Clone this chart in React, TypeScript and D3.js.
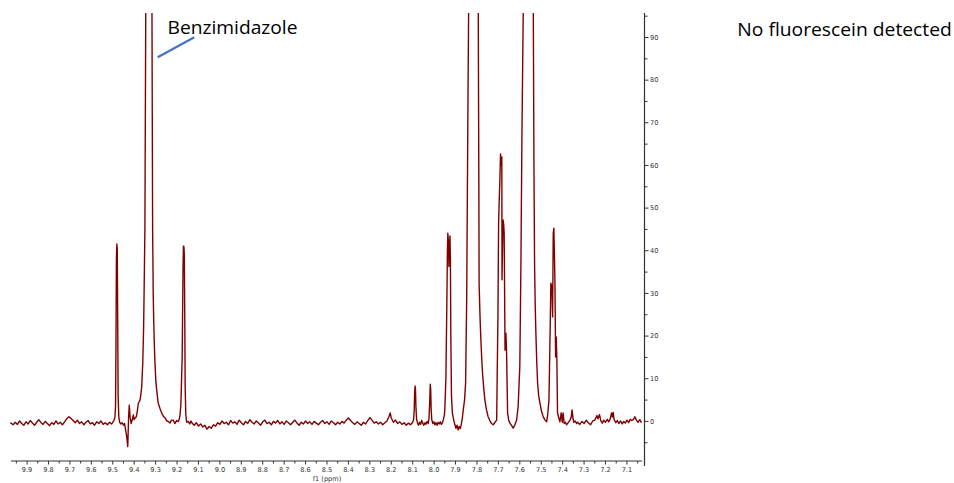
import React from "react";
import * as d3 from "d3";

// 1H NMR trace, f1 chemical shift (ppm) paired with intensity, from the downfield edge upfield

// baseline before the first signal
const baselineDownfield: [number, number][] = [
  [9.978, -0.3], [9.965, -0.8], [9.955, -0.2], [9.945, -0.7], [9.935, 0.1], [9.925, -0.5],
  [9.915, -0.9], [9.905, -0.1], [9.895, -0.6], [9.885, 0.2], [9.875, -0.4], [9.865, -0.9],
  [9.855, -0.2], [9.845, 0.4], [9.835, -0.3], [9.825, -0.7], [9.815, 0.0], [9.805, -0.5],
  [9.795, -1.0], [9.785, -0.3], [9.775, -0.7], [9.765, 0.1], [9.755, -0.6], [9.745, -0.2],
  [9.735, -0.8], [9.725, -0.1], [9.715, 0.6], [9.705, 1.1], [9.695, 0.7], [9.685, 0.2],
  [9.675, -0.3], [9.665, 0.3], [9.655, -0.5], [9.645, -0.1], [9.635, -0.8], [9.625, -0.2],
  [9.615, 0.2], [9.605, -0.6], [9.595, -0.3], [9.585, -0.9], [9.575, -0.1], [9.565, -0.5],
  [9.555, 0.1], [9.545, -0.7], [9.535, -0.3], [9.525, -0.8], [9.515, -0.2], [9.505, -0.6],
  [9.495, 0.2],
];

// benzimidazole signals: 9.48, 9.33 (off scale) and 9.17 ppm
const benzimidazoleSignals: [number, number][] = [
  [9.490, 0.9], [9.487, 3.5], [9.485, 18], [9.483, 38], [9.481, 41.6], [9.479, 40.5],
  [9.477, 24], [9.475, 6], [9.472, 1.2], [9.468, -0.2], [9.462, -0.6], [9.456, -0.3],
  [9.450, -0.9], [9.445, -0.5], [9.440, -2.0], [9.435, -3.5], [9.430, -5.9], [9.426, 1.1],
  [9.423, 3.8], [9.419, 1.0], [9.414, -0.5], [9.408, 0.6], [9.404, 1.5], [9.400, 0.4],
  [9.396, 0.8], [9.390, 1.1], [9.385, 2.5], [9.381, 4.2], [9.377, 4.6], [9.373, 5.0],
  [9.369, 6.2], [9.365, 8.1], [9.360, 13.7], [9.356, 22], [9.354, 29.2], [9.350, 44.9],
  [9.346, 96], [9.338, 200], [9.331, 260], [9.324, 200], [9.317, 96], [9.314, 45],
  [9.312, 35], [9.3115, 31], [9.309, 24], [9.306, 18], [9.303, 13.7], [9.299, 9.5],
  [9.295, 7.4], [9.288, 4.3], [9.280, 3.1], [9.272, 2.0], [9.264, 1.2], [9.256, 0.8],
  [9.248, 0.1], [9.241, 0.0], [9.233, -0.4], [9.226, 0.3], [9.218, 0.3], [9.210, -0.5],
  [9.202, 0.2], [9.194, 0.0], [9.189, 0.6], [9.186, 1.5], [9.182, 4], [9.176, 15],
  [9.172, 36], [9.170, 41.1], [9.168, 41], [9.166, 39], [9.164, 25], [9.162, 8],
  [9.159, 1.5], [9.155, -0.2], [9.148, 0.0], [9.141, -0.6], [9.135, 0.1],
];

// empty stretch between 9.13 and 8.10 ppm
const baselineMiddle: [number, number][] = [
  [9.13, -0.4], [9.12, -0.9], [9.11, -0.3], [9.10, -1.1], [9.09, -0.6], [9.08, -1.3],
  [9.07, -0.9], [9.06, -1.8], [9.05, -1.2], [9.04, -1.6], [9.03, -0.8], [9.02, -1.1],
  [9.01, -0.3], [9.00, -0.7], [8.99, 0.1], [8.98, -0.5], [8.97, -0.2], [8.96, -0.8],
  [8.95, 0.2], [8.94, -0.4], [8.93, -0.1], [8.92, -0.7], [8.91, 0.3], [8.90, -0.3],
  [8.89, -0.8], [8.88, 0.0], [8.87, -0.5], [8.86, 0.4], [8.85, -0.2], [8.84, -0.6],
  [8.83, 0.1], [8.82, -0.4], [8.81, -0.9], [8.80, -0.1], [8.79, 0.3], [8.78, -0.5],
  [8.77, -0.2], [8.76, -0.8], [8.75, 0.0], [8.74, -0.4], [8.73, 0.2], [8.72, -0.6],
  [8.71, -0.1], [8.70, -0.7], [8.69, 0.1], [8.68, -0.3], [8.67, -0.8], [8.66, -0.2],
  [8.65, 0.3], [8.64, -0.4], [8.63, -0.9], [8.62, -0.2], [8.61, -0.6], [8.60, 0.1],
  [8.59, -0.5], [8.58, -0.1], [8.57, -0.7], [8.56, 0.0], [8.55, -0.4], [8.54, -0.8],
  [8.53, -0.2], [8.52, 0.2], [8.51, -0.5], [8.50, -0.1], [8.49, -0.7], [8.48, 0.1],
  [8.47, -0.3], [8.46, -0.8], [8.45, -0.2], [8.44, -0.6], [8.43, 0.0], [8.42, -0.4],
  [8.41, 0.3], [8.40, 0.8], [8.39, 0.2], [8.38, -0.3], [8.37, -0.7], [8.36, -0.1],
  [8.35, -0.5], [8.34, -0.9], [8.33, -0.2], [8.32, -0.6], [8.31, 0.2], [8.30, 0.9],
  [8.29, 0.3], [8.28, -0.4], [8.27, -0.1], [8.26, -0.6], [8.25, -0.2], [8.24, -0.8],
  [8.23, -0.3], [8.22, 0.1], [8.21, 1.2], [8.205, 2.0], [8.20, 0.8], [8.19, -0.2],
  [8.18, 0.3], [8.17, -0.5], [8.16, -0.1], [8.15, -0.7], [8.14, -0.3], [8.13, -0.9],
  [8.12, -0.4], [8.11, -0.8], [8.10, -0.2],
];

// aromatic region, 8.10 to 7.33 ppm
const aromaticSignals: [number, number][] = [
  [8.096, 0.4], [8.093, 2.5], [8.091, 6.5], [8.089, 8.3], [8.087, 7.5], [8.085, 3.5],
  [8.082, 0.6], [8.078, -0.3], [8.073, -0.9], [8.068, -0.2], [8.063, -0.7], [8.058, 0.2],
  [8.053, -0.4], [8.048, -0.9], [8.043, -0.3], [8.038, -0.7], [8.033, 0.0], [8.028, -0.5],
  [8.024, 0.6], [8.021, 4], [8.018, 8.7], [8.016, 7.6], [8.014, 3], [8.011, 0.4],
  [8.006, -0.5], [8.001, -0.1], [7.996, -0.8], [7.991, -0.3], [7.986, -0.9], [7.981, -0.2],
  [7.976, -0.6], [7.971, -0.1], [7.966, -0.7], [7.961, -0.3], [7.957, 0.4], [7.952, 1.5],
  [7.950, 3], [7.945, 10], [7.940, 30], [7.938, 40], [7.936, 44.1], [7.933, 42],
  [7.931, 36.3], [7.929, 40], [7.926, 43.5], [7.924, 38], [7.922, 20], [7.919, 6],
  [7.915, 2], [7.908, 0.2], [7.903, -0.8], [7.898, -1.6], [7.893, -0.9], [7.888, -2.0],
  [7.883, -1.2], [7.878, -1.7], [7.874, -0.9], [7.869, 0.5], [7.864, 2.7], [7.858, 5],
  [7.853, 9], [7.848, 28.5], [7.842, 75], [7.839, 96], [7.828, 220], [7.817, 300],
  [7.806, 220], [7.794, 96], [7.791, 52], [7.790, 32.4], [7.786, 25], [7.783, 20.7],
  [7.778, 15], [7.774, 11.3], [7.768, 7.5], [7.763, 5], [7.756, 2.8], [7.748, 1.1],
  [7.740, 0.2], [7.732, -0.5], [7.724, -0.8], [7.716, -0.2], [7.708, 0.3], [7.706, 9],
  [7.702, 25], [7.699, 46.5], [7.696, 52], [7.693, 56.6], [7.690, 62.7], [7.687, 60],
  [7.684, 62], [7.683, 33.2], [7.681, 40], [7.678, 47.2], [7.675, 46], [7.673, 44.1],
  [7.669, 16.7], [7.665, 20.7], [7.662, 16.7], [7.657, 2], [7.652, 0.3], [7.646, -0.4],
  [7.638, -1.0], [7.631, -1.6], [7.623, -0.8], [7.615, 0.3], [7.608, 3.4], [7.600, 12.8],
  [7.595, 36.3], [7.590, 67.6], [7.584, 96], [7.573, 220], [7.562, 300], [7.550, 220],
  [7.537, 96], [7.534, 59.7], [7.531, 36.3], [7.528, 27], [7.525, 20.7], [7.521, 14],
  [7.517, 9], [7.512, 6], [7.506, 4.3], [7.498, 2.2], [7.490, 1], [7.482, 0.3],
  [7.475, -0.1], [7.470, 1.5], [7.464, 5], [7.460, 16.7], [7.455, 32.4], [7.450, 31.5],
  [7.447, 24.5], [7.444, 44.1], [7.441, 45.3], [7.438, 38], [7.436, 32.4], [7.433, 15.1],
  [7.430, 19.8], [7.427, 14.4], [7.424, 2], [7.418, 0.8], [7.413, -0.1], [7.407, 2],
  [7.402, -0.2], [7.398, 2], [7.393, -0.5], [7.387, -0.2], [7.382, -0.8], [7.374, -0.3],
  [7.366, 0.3], [7.360, 1.0], [7.356, 2.7], [7.352, 0.8], [7.348, -0.2], [7.341, 0.1],
  [7.335, -0.5],
];

// baseline at the upfield end
const baselineUpfield: [number, number][] = [
  [7.330, -0.2], [7.320, -0.7], [7.310, 0.0], [7.300, -0.5], [7.290, 0.3], [7.280, -0.3],
  [7.270, -0.8], [7.260, 0.1], [7.250, 0.3], [7.240, 1.4], [7.235, 0.6], [7.228, 1.6],
  [7.222, 0.2], [7.215, -0.4], [7.208, 0.3], [7.200, -0.2], [7.192, 0.5], [7.185, -0.1],
  [7.178, 0.6], [7.172, 2.0], [7.168, 1.0], [7.164, 2.1], [7.160, 0.4], [7.152, -0.3],
  [7.145, 0.2], [7.138, -0.5], [7.130, 0.1], [7.122, -0.6], [7.115, 0.0], [7.108, -0.4],
  [7.100, 0.3], [7.092, -0.3], [7.085, 0.5], [7.078, 0.2], [7.070, 0.4], [7.063, 1.1],
  [7.056, 0.3], [7.048, -0.2], [7.040, 0.4], [7.032, -0.3],
];

const spectrum: [number, number][] = [
  ...baselineDownfield,
  ...benzimidazoleSignals,
  ...baselineMiddle,
  ...aromaticSignals,
  ...baselineUpfield,
];

const shiftTickLabels = [
  9.9, 9.8, 9.7, 9.6, 9.5, 9.4, 9.3, 9.2, 9.1, 9.0, 8.9, 8.8, 8.7, 8.6, 8.5,
  8.4, 8.3, 8.2, 8.1, 8.0, 7.9, 7.8, 7.7, 7.6, 7.5, 7.4, 7.3, 7.2, 7.1,
];
const intensityTickLabels = [0, 10, 20, 30, 40, 50, 60, 70, 80, 90];

const axisTitle = "f1 (ppm)";
const peakLabel = "Benzimidazole";
const noteText = "No fluorescein detected";

const W = 954;
const H = 483;

export default function App() {
  const x = d3.scaleLinear().domain([9.975, 7.025]).range([11, 643]);
  const y = d3.scaleLinear().domain([0, 90]).range([421.4, 37.5]);

  const plotTop = 13;
  const axisY = 461;
  const axisX = 644.5;

  const line = d3
    .line<[number, number]>()
    .x((d) => x(d[0]))
    .y((d) => y(d[1]));

  const minorShift = d3.range(0, 30).map((i) => +(9.95 - i * 0.1).toFixed(2));
  const minorIntensity = d3.range(-5, 100, 10);

  const tickFont = "'DejaVu Sans', Verdana, sans-serif";
  const tickColor = "#333";

  return (
    <svg
      width={W}
      height={H}
      viewBox={`0 0 ${W} ${H}`}
      style={{ position: "absolute", left: 0, top: 0, background: "#fff" }}
    >
      <defs>
        <clipPath id="plotArea">
          <rect x={0} y={plotTop} width={axisX} height={H - plotTop} />
        </clipPath>
      </defs>

      {/* spectrum trace */}
      <path
        d={line(spectrum) ?? ""}
        fill="none"
        stroke="#800000"
        strokeWidth={1.4}
        strokeLinejoin="round"
        clipPath="url(#plotArea)"
      />

      {/* chemical shift axis */}
      <g>
        <line x1={11} x2={642} y1={axisY} y2={axisY} stroke={tickColor} strokeWidth={1} />
        {shiftTickLabels.map((t) => (
          <g key={`M${t}`}>
            <line x1={x(t)} x2={x(t)} y1={axisY} y2={axisY + 3.5} stroke={tickColor} strokeWidth={1} />
            <text
              x={x(t)}
              y={471.5}
              textAnchor="middle"
              fontFamily={tickFont}
              fontSize={6.6}
              fill={tickColor}
            >
              {t.toFixed(1)}
            </text>
          </g>
        ))}
        {minorShift.map((t) => (
          <line key={`m${t}`} x1={x(t)} x2={x(t)} y1={axisY} y2={axisY + 2.5} stroke={tickColor} strokeWidth={1} />
        ))}
        <text
          x={327}
          y={481}
          textAnchor="middle"
          fontFamily={tickFont}
          fontSize={6.6}
          fill={tickColor}
        >
          {axisTitle}
        </text>
      </g>

      {/* intensity axis */}
      <g>
        <line x1={axisX} x2={axisX} y1={plotTop} y2={466} stroke={tickColor} strokeWidth={1.2} />
        {intensityTickLabels.map((t) => (
          <g key={`Y${t}`}>
            <line x1={axisX} x2={axisX + 4} y1={y(t)} y2={y(t)} stroke={tickColor} strokeWidth={1} />
            <text
              x={axisX + 5.5}
              y={y(t)}
              dy="0.35em"
              fontFamily={tickFont}
              fontSize={6.6}
              fill={tickColor}
            >
              {t}
            </text>
          </g>
        ))}
        {minorIntensity.map((t) => (
          <line key={`y${t}`} x1={axisX} x2={axisX + 3} y1={y(t)} y2={y(t)} stroke={tickColor} strokeWidth={1} />
        ))}
      </g>

      {/* annotations */}
      <line x1={157.7} y1={57.3} x2={194.3} y2={37.3} stroke="#4472C4" strokeWidth={2.2} />
      <text
        x={167.5}
        y={34}
        fontFamily="'Open Sans', 'Noto Sans', sans-serif"
        fontSize={19}
        fill="#000"
        textLength={130}
        lengthAdjust="spacingAndGlyphs"
      >
        {peakLabel}
      </text>
      <text
        x={737.3}
        y={35.5}
        fontFamily="'Open Sans', 'Noto Sans', sans-serif"
        fontSize={19}
        fill="#000"
        textLength={214.5}
        lengthAdjust="spacingAndGlyphs"
      >
        {noteText}
      </text>
    </svg>
  );
}
